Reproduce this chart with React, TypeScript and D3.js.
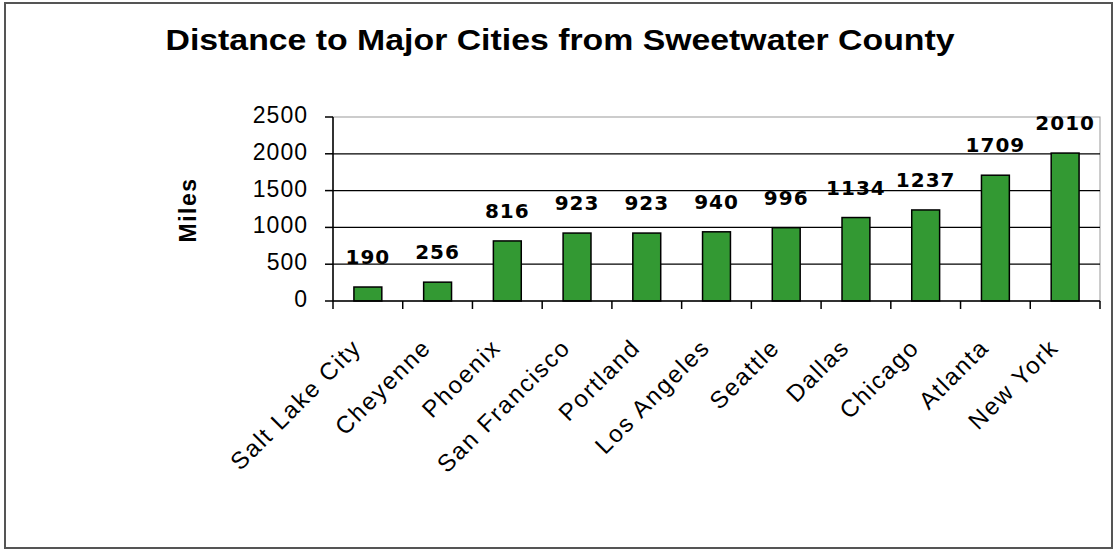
import * as d3 from "d3";

const cities = [
  "Salt Lake City",
  "Cheyenne",
  "Phoenix",
  "San Francisco",
  "Portland",
  "Los Angeles",
  "Seattle",
  "Dallas",
  "Chicago",
  "Atlanta",
  "New York",
];
const miles = [190, 256, 816, 923, 923, 940, 996, 1134, 1237, 1709, 2010];
const yTicks = [0, 500, 1000, 1500, 2000, 2500];

const W = 1115;
const H = 550;
const left = 333;
const right = 1100;
const top = 117;
const bottom = 301;

const App = () => {
  const x = d3.scaleBand().domain(cities).range([left, right]).paddingInner(0.6).paddingOuter(0.3);
  const band = d3.scaleBand().domain(cities).range([left, right]);
  const y = d3.scaleLinear().domain([0, 2500]).range([bottom, top]);

  return (
    <svg width={W} height={H} style={{ position: "absolute", left: 0, top: 0, background: "#fff" }}>
      <rect x={5} y={3} width={1107} height={545} fill="#fff" stroke="#555" strokeWidth={2} />
      <text
        x={560}
        y={50}
        textAnchor="middle"
        fontFamily="Liberation Sans, Arial, sans-serif"
        fontWeight="bold"
        fontSize={30}
        textLength={789}
        lengthAdjust="spacingAndGlyphs"
        fill="#000"
      >
        Distance to Major Cities from Sweetwater County
      </text>

      {/* plot area frame */}
      <rect x={left} y={top} width={right - left} height={bottom - top} fill="none" stroke="#999" strokeWidth={1} />

      {/* gridlines */}
      {yTicks.slice(1, -1).map((t) => (
        <line key={t} x1={left} x2={right} y1={y(t)} y2={y(t)} stroke="#000" strokeWidth={1.3} />
      ))}

      {/* y axis */}
      <line x1={left} x2={left} y1={top} y2={bottom} stroke="#000" strokeWidth={1.5} />
      {yTicks.map((t) => (
        <g key={t}>
          <line x1={left - 8} x2={left} y1={y(t)} y2={y(t)} stroke="#000" strokeWidth={1.5} />
          <text
            x={308}
            y={y(t)}
            textAnchor="end"
            dominantBaseline="middle"
            fontFamily="Liberation Sans, Arial, sans-serif"
            fontSize={23}
            letterSpacing={1}
            fill="#000"
          >
            {t}
          </text>
        </g>
      ))}
      <text
        transform={`translate(196,210) rotate(-90)`}
        textAnchor="middle"
        fontFamily="Liberation Sans, Arial, sans-serif"
        fontWeight="bold"
        fontSize={23}
        letterSpacing={1.5}
        fill="#000"
      >
        Miles
      </text>

      {/* bars */}
      {cities.map((c, i) => (
        <rect
          key={c}
          x={x(c)}
          y={y(miles[i])}
          width={x.bandwidth()}
          height={bottom - y(miles[i])}
          fill="#339933"
          stroke="#000"
          strokeWidth={1.5}
        />
      ))}

      {/* value labels */}
      {cities.map((c, i) => (
        <text
          key={c}
          x={(x(c) as number) + x.bandwidth() / 2}
          y={y(miles[i]) - 23}
          textAnchor="middle"
          fontFamily="DejaVu Sans, sans-serif"
          fontWeight="bold"
          fontSize={20}
          letterSpacing={1}
          fill="#000"
        >
          {miles[i]}
        </text>
      ))}

      {/* x axis */}
      <line x1={left} x2={right} y1={bottom} y2={bottom} stroke="#000" strokeWidth={1.5} />
      {[...cities.map((c) => band(c) as number), right].map((bx, i) => (
        <line key={i} x1={bx} x2={bx} y1={bottom} y2={bottom + 8} stroke="#000" strokeWidth={1.5} />
      ))}
      {cities.map((c) => {
        const cx = (band(c) as number) + band.bandwidth() / 2;
        return (
          <text
            key={c}
            transform={`translate(${cx - 5},${bottom + 48}) rotate(-45)`}
            textAnchor="end"
            fontFamily="Liberation Sans, Arial, sans-serif"
            fontSize={24}
            letterSpacing={1.8}
            fill="#000"
          >
            {c}
          </text>
        );
      })}
    </svg>
  );
};

export default App;
